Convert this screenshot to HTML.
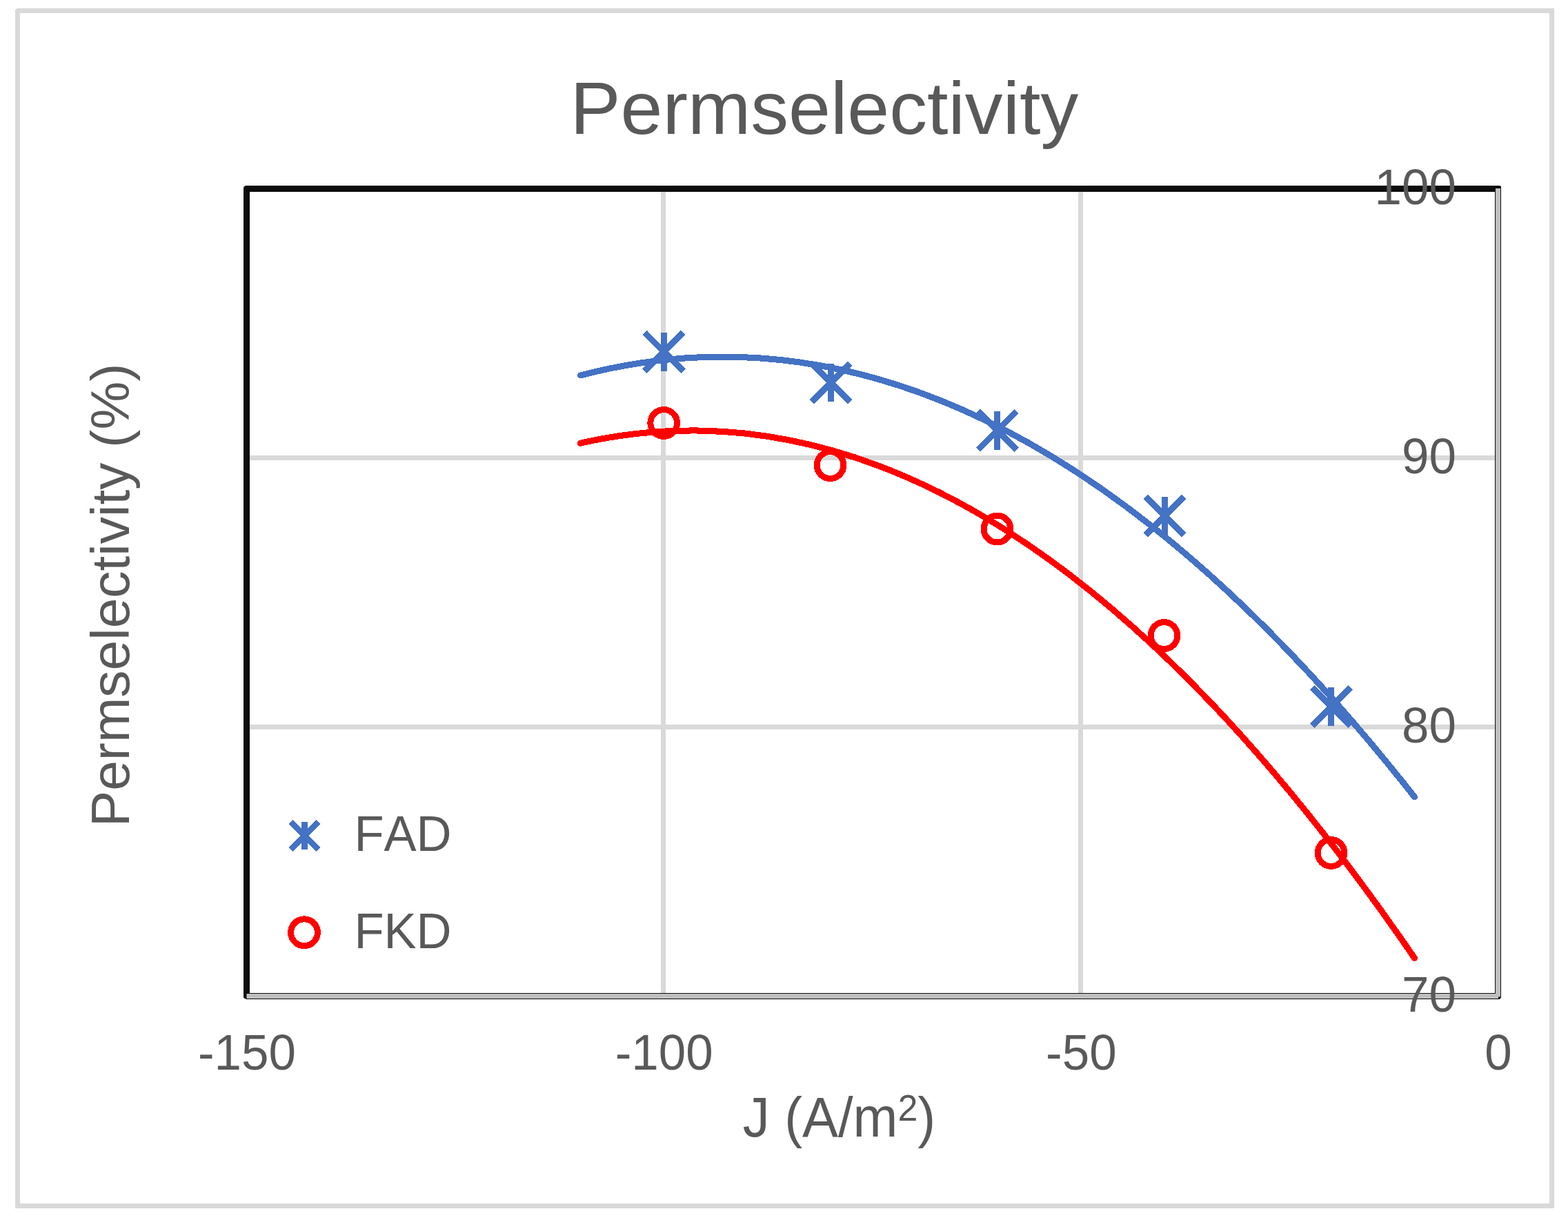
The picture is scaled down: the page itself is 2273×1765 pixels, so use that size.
<!DOCTYPE html>
<html lang="en"><head><meta charset="utf-8"><title>Permselectivity</title>
<style>html,body{margin:0;padding:0;background:#fff;}body{width:2273px;height:1765px;overflow:hidden;}svg{display:block;}text{font-family:"Liberation Sans",Arial,Helvetica,sans-serif;fill:#595959;font-kerning:none;}</style></head><body>
<svg width="2273" height="1765" viewBox="0 0 2273 1765">
<rect x="0" y="0" width="2273" height="1765" fill="#fff"/>
<rect x="25.5" y="15.5" width="2224" height="1732" fill="none" stroke="#D9D9D9" stroke-width="7"/>
<g stroke="#D9D9D9" stroke-width="7" fill="none">
<line x1="961.50" y1="273.5" x2="961.50" y2="1443.5"/>
<line x1="1566.50" y1="273.5" x2="1566.50" y2="1443.5"/>
<line x1="357.5" y1="663.50" x2="2171.5" y2="663.50"/>
<line x1="357.5" y1="1053.50" x2="2171.5" y2="1053.50"/>
</g>
<rect x="357.5" y="273.5" width="1814.0" height="1170.0" fill="none" stroke="#0D0D0D" stroke-width="9"/>
<path d="M357 1439.5H2167.5V272.5H2175.5V1447.5H357Z" fill="#BFBFBF" stroke="#0D0D0D" stroke-width="1"/>
<path d="M2172 1444.5H2175.5V1447.5H2172Z" fill="#0D0D0D"/>
<g fill="#fff"><path d="M22 12H24.6L22 14.6Z"/><path d="M2253 1751H2250.8L2253 1749.7Z"/><path d="M353 269H355.6L353 271.4Z"/><path d="M2174 269H2176V270.2Z"/><path d="M353 1448V1445.9L354.2 1446.5L356 1447.5L356.4 1448Z"/><path d="M2176 1448H2173.7L2176 1445.8Z"/></g>
<path d="M841.23 544.01 Q1445.90 386.00 2050.57 1154.94" fill="none" stroke="#4472C4" stroke-width="9" stroke-linecap="round" shape-rendering="crispEdges"/>
<path d="M841.23 642.20 Q1445.90 505.89 2050.57 1388.46" fill="none" stroke="#FF0000" stroke-width="9" stroke-linecap="round" shape-rendering="crispEdges"/>
<path d="M934.65 482.00L990.35 537.70M990.35 482.00L934.65 537.70M962.50 482.00L962.50 537.70" fill="none" stroke="#4472C4" stroke-width="9" shape-rendering="crispEdges"/>
<path d="M1176.75 526.55L1232.45 582.25M1232.45 526.55L1176.75 582.25M1204.60 526.55L1204.60 582.25" fill="none" stroke="#4472C4" stroke-width="9" shape-rendering="crispEdges"/>
<path d="M1417.85 595.95L1473.55 651.65M1473.55 595.95L1417.85 651.65M1445.70 595.95L1445.70 651.65" fill="none" stroke="#4472C4" stroke-width="9" shape-rendering="crispEdges"/>
<path d="M1660.75 719.55L1716.45 775.25M1716.45 719.55L1660.75 775.25M1688.60 719.55L1688.60 775.25" fill="none" stroke="#4472C4" stroke-width="9" shape-rendering="crispEdges"/>
<path d="M1902.05 996.35L1957.75 1052.05M1957.75 996.35L1902.05 1052.05M1929.90 996.35L1929.90 1052.05" fill="none" stroke="#4472C4" stroke-width="9" shape-rendering="crispEdges"/>
<circle cx="962.20" cy="613.00" r="19.4" fill="none" stroke="#FF0000" stroke-width="9" shape-rendering="crispEdges"/>
<circle cx="1203.50" cy="674.10" r="19.4" fill="none" stroke="#FF0000" stroke-width="9" shape-rendering="crispEdges"/>
<circle cx="1445.50" cy="766.50" r="19.4" fill="none" stroke="#FF0000" stroke-width="9" shape-rendering="crispEdges"/>
<circle cx="1687.50" cy="921.00" r="19.4" fill="none" stroke="#FF0000" stroke-width="9" shape-rendering="crispEdges"/>
<circle cx="1929.50" cy="1235.90" r="19.4" fill="none" stroke="#FF0000" stroke-width="9" shape-rendering="crispEdges"/>
<text transform="translate(358.00 1550.00) scale(1 1.025)" font-size="71" text-anchor="middle">-150</text>
<text transform="translate(962.67 1550.00) scale(1 1.025)" font-size="71" text-anchor="middle">-100</text>
<text transform="translate(1567.33 1550.00) scale(1 1.025)" font-size="71" text-anchor="middle">-50</text>
<text transform="translate(2172.00 1550.00) scale(1 1.025)" font-size="71" text-anchor="middle">0</text>
<text transform="translate(2111.00 296.00) scale(1 1.025)" font-size="71" text-anchor="end">100</text>
<text transform="translate(2111.00 686.00) scale(1 1.025)" font-size="71" text-anchor="end">90</text>
<text transform="translate(2111.00 1076.00) scale(1 1.025)" font-size="71" text-anchor="end">80</text>
<text transform="translate(2111.00 1466.00) scale(1 1.025)" font-size="71" text-anchor="end">70</text>
<path d="M421.60 1191.10L461.40 1230.90M461.40 1191.10L421.60 1230.90M441.50 1191.10L441.50 1230.90" fill="none" stroke="#4472C4" stroke-width="9" shape-rendering="crispEdges"/>
<circle cx="441.00" cy="1351.20" r="19.4" fill="none" stroke="#FF0000" stroke-width="9" shape-rendering="crispEdges"/>
<text transform="translate(513.40 1232.90) scale(1 1.032)" font-size="70.6" text-anchor="start">FAD</text>
<text transform="translate(513.40 1373.80) scale(1 1.032)" font-size="70.6" text-anchor="start">FKD</text>
<text transform="translate(1194.80 193.80) scale(1 0.98)" font-size="109.6" text-anchor="middle">Permselectivity</text>
<text transform="translate(1076.70 1646.80) scale(1 1.04)" font-size="77.8" text-anchor="start">J (A/m<tspan font-size="51.8926" dy="-22">2</tspan><tspan dy="22">)</tspan></text>
<text transform="translate(186.80 862.40) rotate(-90) scale(1 0.98)" font-size="78.5" text-anchor="middle">Permselectivity (%)</text>
</svg></body></html>
